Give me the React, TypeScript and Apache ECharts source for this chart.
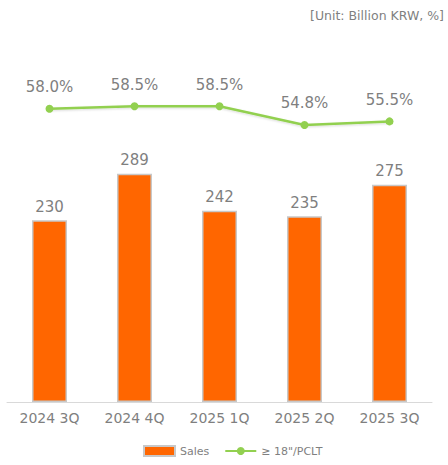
import React, { useEffect, useRef } from "react";
import * as echarts from "echarts";

const categories = ["2024 3Q", "2024 4Q", "2025 1Q", "2025 2Q", "2025 3Q"];
const salesValues = [230, 289, 242, 235, 275];
const pcltValues = [58.0, 58.5, 58.5, 54.8, 55.5];
const unitText = "[Unit: Billion KRW, %]";
const seriesNames = ["Sales", "≥ 18\"/PCLT"];

const FONT = "DejaVu Sans";

export default function App() {
  const ref = useRef<HTMLDivElement>(null);
  useEffect(() => {
    if (!ref.current) return;
    const chart = echarts.init(ref.current, null, { renderer: "svg" });
    chart.setOption({
      animation: false,
      textStyle: { fontFamily: FONT },
      graphic: [
        {
          type: "text",
          x: 444,
          y: 15,
          style: {
            text: unitText,
            fill: "#7f7f7f",
            fontSize: 12.5,
            fontFamily: FONT,
            align: "right",
            verticalAlign: "middle",
          },
        },
      ],
      legend: {
        bottom: 3,
        left: 138,
        itemWidth: 31,
        itemHeight: 10,
        itemGap: 15,
        textStyle: { color: "#7f7f7f", fontSize: 11, fontFamily: FONT },
        data: [
          { name: seriesNames[0], icon: "rect" },
          { name: seriesNames[1] },
        ],
      },
      grid: { left: 7, right: 16, top: 86, bottom: 63, containLabel: false },
      xAxis: {
        type: "category",
        data: categories,
        axisLine: { lineStyle: { color: "#d9d9d9", width: 1 } },
        axisTick: { show: false },
        axisLabel: { color: "#7f7f7f", fontSize: 14, margin: 9, fontFamily: FONT },
      },
      yAxis: [
        { type: "value", min: 0, max: 400, show: false, splitLine: { show: false } },
        { type: "value", min: 0, max: 62.5, show: false, splitLine: { show: false } },
      ],
      series: [
        {
          name: seriesNames[0],
          type: "bar",
          data: salesValues,
          barWidth: 35,
          itemStyle: { color: "#ff6600", borderColor: "#c8c8c8", borderWidth: 1.5 },
          label: {
            show: true,
            position: "top",
            distance: 6,
            color: "#7f7f7f",
            fontSize: 15,
            fontFamily: FONT,
          },
        },
        {
          name: seriesNames[1],
          type: "line",
          yAxisIndex: 1,
          data: pcltValues,
          symbol: "circle",
          symbolSize: 8,
          lineStyle: {
            color: "#92d050",
            width: 2.5,
            shadowColor: "rgba(0,0,0,0.15)",
            shadowBlur: 2,
            shadowOffsetY: 1,
          },
          itemStyle: { color: "#92d050" },
          label: {
            show: true,
            position: "top",
            distance: 10,
            color: "#7f7f7f",
            fontSize: 15,
            fontFamily: FONT,
            formatter: (p: any) => p.value.toFixed(1) + "%",
          },
        },
      ],
    });
    return () => chart.dispose();
  }, []);
  return (
    <div
      ref={ref}
      style={{ position: "absolute", left: 0, top: 0, width: 448, height: 465 }}
    />
  );
}
